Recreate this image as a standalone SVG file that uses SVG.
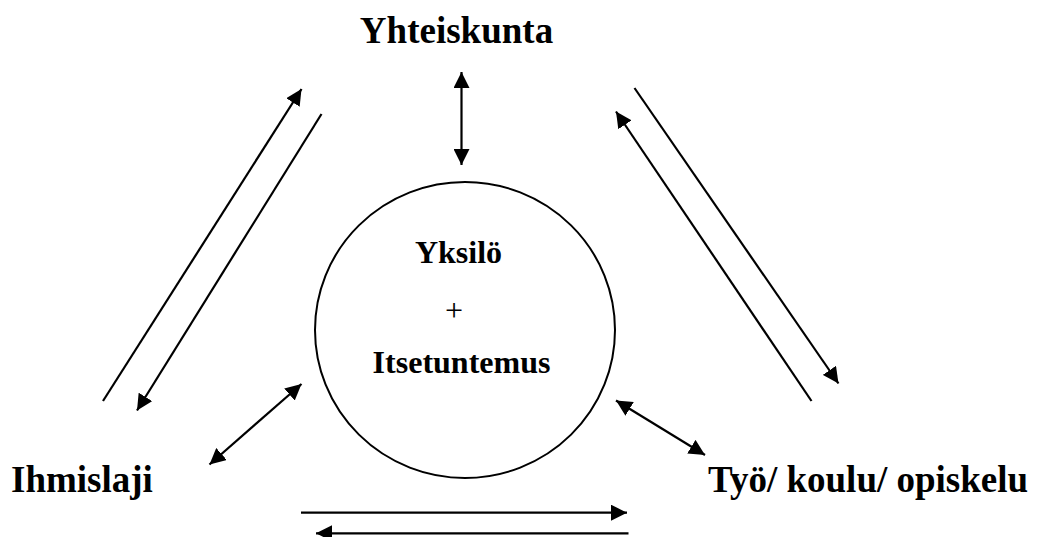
<svg xmlns="http://www.w3.org/2000/svg" width="1039" height="537" viewBox="0 0 1039 537">
  <style>
    .label { font-family: "Liberation Serif", "Times New Roman", serif; font-weight: bold; fill: #000; }
    .outer { font-size: 37px; }
    .inner { font-size: 32px; }
    .plus { font-family: "Liberation Serif", "Times New Roman", serif; font-size: 32px; fill: #000; }
    .link { stroke: #000; stroke-width: 2.2; fill: none; }
  </style>
  <defs>
    <marker id="head" viewBox="0 0 16 16" refX="16" refY="8" markerWidth="16" markerHeight="16" markerUnits="userSpaceOnUse" orient="auto-start-reverse">
      <path d="M0,0 L16,8 L0,16 Z" fill="#000"/>
    </marker>
  </defs>
  <rect width="1039" height="537" fill="#fff"/>

  <g id="node-yksilo">
    <ellipse cx="465" cy="330" rx="150" ry="148" fill="none" stroke="#000" stroke-width="2"/>
    <text class="label inner" x="458.5" y="263" text-anchor="middle">Yksilö</text>
    <text class="plus" x="454" y="321" text-anchor="middle">+</text>
    <text class="label inner" x="461.5" y="373" text-anchor="middle">Itsetuntemus</text>
  </g>

  <g id="node-yhteiskunta">
    <text class="label outer" x="456.5" y="43" text-anchor="middle">Yhteiskunta</text>
  </g>

  <g id="node-ihmislaji">
    <text class="label outer" x="11" y="492">Ihmislaji</text>
  </g>

  <g id="node-tyo">
    <text class="label outer" x="708" y="492">Työ/ koulu/ opiskelu</text>
  </g>

  <g id="connectors">
    <!-- Yhteiskunta <-> Yksilö -->
    <line class="link" x1="461.5" y1="72" x2="461.5" y2="165" marker-start="url(#head)" marker-end="url(#head)"/>
    <!-- Ihmislaji <-> Yhteiskunta -->
    <line class="link" x1="103" y1="401" x2="301.5" y2="89" marker-end="url(#head)"/>
    <line class="link" x1="321.5" y1="114" x2="137" y2="410.5" marker-end="url(#head)"/>
    <!-- Yhteiskunta <-> Työ -->
    <line class="link" x1="634.5" y1="88" x2="838.5" y2="383.5" marker-end="url(#head)"/>
    <line class="link" x1="811.5" y1="401" x2="616" y2="111.5" marker-end="url(#head)"/>
    <!-- Ihmislaji <-> Yksilö -->
    <line class="link" x1="209.5" y1="464.5" x2="301.5" y2="384" marker-start="url(#head)" marker-end="url(#head)"/>
    <!-- Yksilö <-> Työ -->
    <line class="link" x1="616" y1="400.5" x2="705" y2="455" marker-start="url(#head)" marker-end="url(#head)"/>
    <!-- Ihmislaji <-> Työ -->
    <line class="link" x1="301" y1="512.7" x2="627" y2="512.7" marker-end="url(#head)"/>
    <line class="link" x1="628.5" y1="533.3" x2="316" y2="533.3" marker-end="url(#head)"/>
  </g>
</svg>
